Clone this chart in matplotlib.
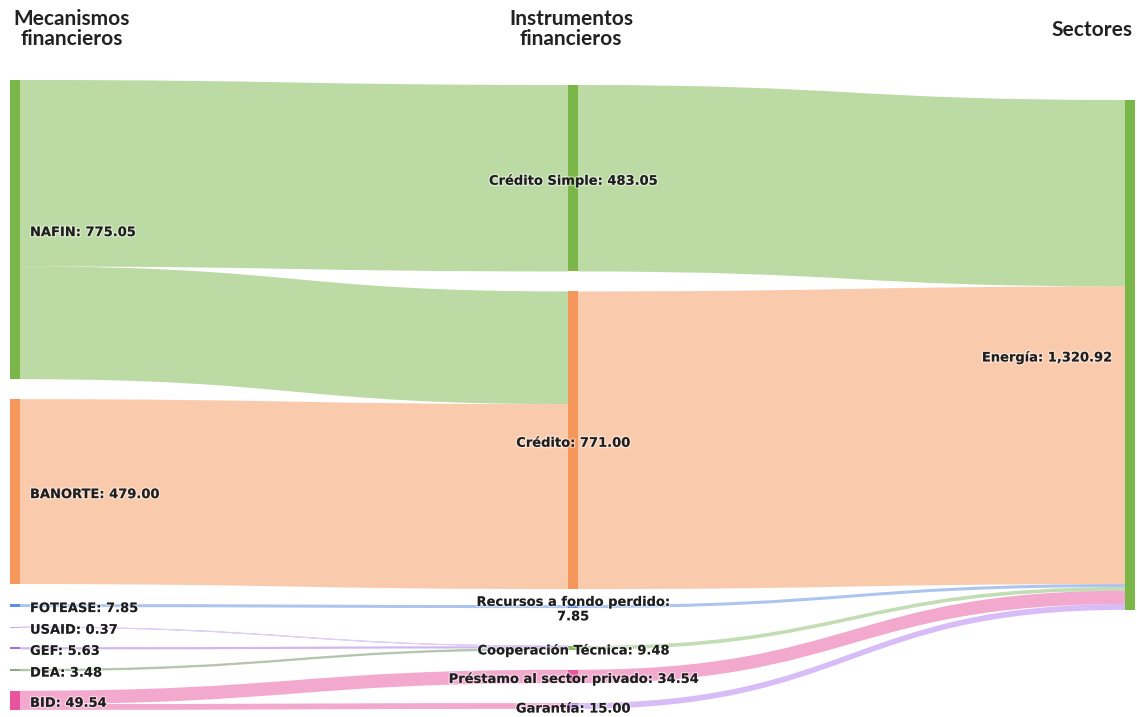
import matplotlib
matplotlib.use("Agg")
import matplotlib.pyplot as plt
from matplotlib.path import Path
from matplotlib.patches import PathPatch, Rectangle
import matplotlib.patheffects as pe
from matplotlib.colors import to_rgba

# ---------------- data ----------------
mecanismos = ["NAFIN", "BANORTE", "FOTEASE", "USAID", "GEF", "DEA", "BID"]
instrumentos = ["Crédito Simple", "Crédito", "Recursos a fondo perdido",
                "Cooperación Técnica", "Préstamo al sector privado", "Garantía"]
sectores = ["Energía"]

flow_src = ["NAFIN", "NAFIN", "BANORTE", "FOTEASE", "USAID", "GEF", "DEA", "BID", "BID",
            "Crédito Simple", "Crédito", "Recursos a fondo perdido", "Cooperación Técnica",
            "Préstamo al sector privado", "Garantía"]
flow_dst = ["Crédito Simple", "Crédito", "Crédito", "Recursos a fondo perdido",
            "Cooperación Técnica", "Cooperación Técnica", "Cooperación Técnica",
            "Préstamo al sector privado", "Garantía",
            "Energía", "Energía", "Energía", "Energía", "Energía", "Energía"]
flow_val = [483.05, 292.00, 479.00, 7.85, 0.37, 5.63, 3.48, 34.54, 15.00,
            483.05, 771.00, 7.85, 9.48, 34.54, 15.00]

column_titles = ["Mecanismos\nfinancieros", "Instrumentos\nfinancieros", "Sectores"]

# ---------------- style / layout ----------------
node_colors = {
    "NAFIN": "#7AB648", "BANORTE": "#F5965A", "FOTEASE": "#5B8DE0",
    "USAID": "#C7A6EC", "GEF": "#A56FE0", "DEA": "#8DA885", "BID": "#E8559E",
    "Crédito Simple": "#7AB648", "Crédito": "#F5965A",
    "Recursos a fondo perdido": "#5B8DE0", "Cooperación Técnica": "#86BD68",
    "Préstamo al sector privado": "#E8559E", "Garantía": "#B27AF0",
    "Energía": "#7AB648",
}
W, H = 1137, 717
scale = 0.386           # pixels per unit of value
node_w = 10
col_x = [10, 568, 1125]
col_top = [80, 85, 100]
col_gaps = [[20, 20, 20, 20, 20, 20],
            [20, 16, 38, 20, 20],
            []]
columns = [mecanismos, instrumentos, sectores]

fig = plt.figure(figsize=(W / 100, H / 100), dpi=100)
ax = fig.add_axes([0, 0, 1, 1])
ax.set_xlim(0, W)
ax.set_ylim(H, 0)
ax.axis("off")

# node values
node_val = {}
for s, d, v in zip(flow_src, flow_dst, flow_val):
    node_val.setdefault(s, [0, 0])
    node_val.setdefault(d, [0, 0])
    node_val[s][1] += v
    node_val[d][0] += v
node_val = {k: max(v) for k, v in node_val.items()}

# node positions
node_pos = {}
node_col = {}
for ci, col in enumerate(columns):
    y = col_top[ci]
    for ni, name in enumerate(col):
        if ni > 0:
            y += col_gaps[ci][ni - 1]
        h = node_val[name] * scale
        node_pos[name] = (col_x[ci], y, h)
        node_col[name] = ci
        y += h

order = {n: i for i, n in enumerate(mecanismos + instrumentos + sectores)}

# link positions
out_off = {n: 0.0 for n in node_pos}
in_off = {n: 0.0 for n in node_pos}
links = list(zip(flow_src, flow_dst, flow_val))
src_y = {}
for idx in sorted(range(len(links)), key=lambda i: (order[links[i][0]], order[links[i][1]])):
    s, d, v = links[idx]
    src_y[idx] = node_pos[s][1] + out_off[s]
    out_off[s] += v * scale
dst_y = {}
for idx in sorted(range(len(links)), key=lambda i: (order[links[i][1]], order[links[i][0]])):
    s, d, v = links[idx]
    dst_y[idx] = node_pos[d][1] + in_off[d]
    in_off[d] += v * scale

for idx, (s, d, v) in enumerate(links):
    h = v * scale
    xs = node_pos[s][0] + node_w
    xt = node_pos[d][0]
    xm = (xs + xt) / 2
    y0, y1 = src_y[idx], dst_y[idx]
    verts = [(xs, y0), (xm, y0), (xm, y1), (xt, y1),
             (xt, y1 + h), (xm, y1 + h), (xm, y0 + h), (xs, y0 + h), (xs, y0)]
    codes = [Path.MOVETO, Path.CURVE4, Path.CURVE4, Path.CURVE4,
             Path.LINETO, Path.CURVE4, Path.CURVE4, Path.CURVE4, Path.CLOSEPOLY]
    col = to_rgba(node_colors[s], 0.5)
    lw = 0.8 if h < 2 else 0
    ax.add_patch(PathPatch(Path(verts, codes), facecolor=col,
                           edgecolor=col, lw=lw, zorder=1))

# nodes
for name, (x, y, h) in node_pos.items():
    ax.add_patch(Rectangle((x, y), node_w, max(h, 0.8),
                           facecolor=node_colors[name], edgecolor="none", zorder=2))

# labels
halo = [pe.withStroke(linewidth=2, foreground=(1, 1, 1, 0.45))]
font = dict(family="DejaVu Sans", fontweight="bold", fontsize=9.4, color="#1e1e1e", zorder=3)
for name, (x, y, h) in node_pos.items():
    ci = node_col[name]
    val = node_val[name]
    sep = ":\n" if name == "Recursos a fondo perdido" else ": "
    text = f"{name}{sep}{val:,.2f}"
    yc = y + h / 2 + 3
    if ci == 0:
        ax.text(x + node_w + 10, yc, text, ha="left", va="center",
                path_effects=halo, **font)
    elif ci == 1:
        ax.text(x + node_w / 2, yc, text, ha="center", va="center",
                multialignment="center", linespacing=1.15, path_effects=halo, **font)
    else:
        ax.text(x - 13, yc, text, ha="right", va="center", path_effects=halo, **font)

# column titles
tfont = dict(family=["Lato", "DejaVu Sans"], fontweight="bold",
             fontsize=15, color="#222222", linespacing=1.0)
ax.text(72, 9, column_titles[0], ha="center", va="top", multialignment="center", **tfont)
ax.text(571, 9, column_titles[1], ha="center", va="top", multialignment="center", **tfont)
ax.text(1132, 20, column_titles[2], ha="right", va="top", **tfont)

fig.savefig("out.png", dpi=100)
